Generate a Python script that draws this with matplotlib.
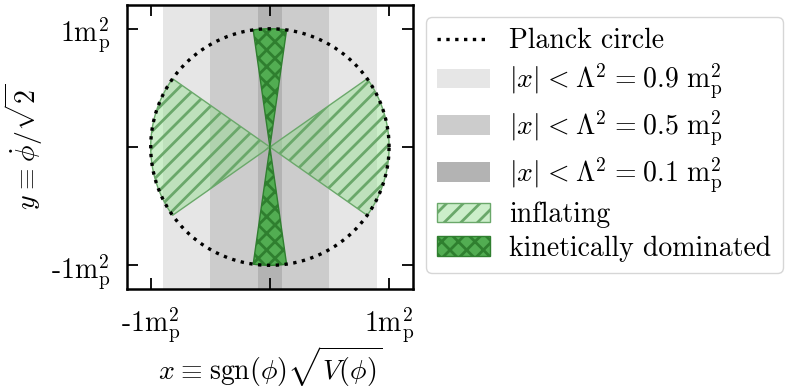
import numpy as np
import matplotlib
matplotlib.use("Agg")
import matplotlib.pyplot as plt

plt.rcParams['font.family'] = 'serif'
plt.rcParams['font.serif'] = ['cmr10']
plt.rcParams['mathtext.fontset'] = 'cm'
plt.rcParams['axes.unicode_minus'] = False
plt.rcParams['hatch.linewidth'] = 2.0

# data
planck_radius = 1.0
cutoffs = [0.9, 0.5, 0.1]                 # Lambda^2 in m_p^2
cutoff_grays = ['0.9', '0.8', '0.7']
inflating_slope = 1 / np.sqrt(2)          # |y| < x / sqrt(2)
kinetic_slope = 1 / np.sqrt(50)           # |x| < |y| / sqrt(50)
tick_values = [-1, 0, 1]
tick_labels = [r'-$1\mathrm{m}_\mathrm{p}^2$', '', r'$1\mathrm{m}_\mathrm{p}^2$']
lim = 1.2

fs = 20
sp = r'\hspace{0.08}'

fig = plt.figure(figsize=(7.88, 3.9), dpi=100)
ax = fig.add_axes([0.161, 0.259, 0.363, 0.728])

# cutoff bands
for c, g in zip(cutoffs, cutoff_grays):
    lab = r'$|x|' + sp + '<' + sp + r'\Lambda^2' + sp + '=' + sp + '%.1f\\ \\mathrm{m}_\\mathrm{p}^2$' % c
    ax.axvspan(-c, c, color=g, lw=0, label=lab)


def wedge(a0, a1, n=100):
    t = np.linspace(a0, a1, n)
    xs = np.concatenate([[0], planck_radius * np.cos(t), [0]])
    ys = np.concatenate([[0], planck_radius * np.sin(t), [0]])
    return xs, ys


th_inf = np.arctan(inflating_slope)
for i, mid in enumerate([0, np.pi]):
    xs, ys = wedge(mid - th_inf, mid + th_inf)
    ax.fill(xs, ys, facecolor=(0.56, 0.86, 0.54, 0.45), edgecolor='#6aa86a',
            lw=1.0, hatch='//', label='inflating' if i == 0 else None)

th_kin = np.arctan(kinetic_slope)
for i, mid in enumerate([np.pi / 2, -np.pi / 2]):
    xs, ys = wedge(mid - th_kin, mid + th_kin)
    ax.fill(xs, ys, facecolor='#52ad52', edgecolor='#2f7f2f',
            lw=1.0, hatch='xx', label='kinetically dominated' if i == 0 else None)

t = np.linspace(0, 2 * np.pi, 400)
ax.plot(planck_radius * np.cos(t), planck_radius * np.sin(t), ':', color='k',
        lw=2.4, label='Planck circle', zorder=5)

ax.set_xlim(-lim, lim)
ax.set_ylim(-lim, lim)
ax.set_xticks(tick_values)
ax.set_xticklabels(tick_labels)
ax.set_yticks(tick_values)
ax.set_yticklabels(tick_labels)
ax.tick_params(direction='in', top=True, right=True, length=8, width=1.3,
               labelsize=fs, pad=12)
for s in ax.spines.values():
    s.set_linewidth(1.8)

ax.set_xlabel(r'$x' + sp + r'\equiv' + sp + r'\mathrm{sgn}(\phi)\sqrt{V(\phi)}$',
              fontsize=fs, labelpad=-1)
ax.set_ylabel(r'$y' + sp + r'\equiv' + sp + r'\dot{\phi}/\sqrt{2}$', fontsize=fs, labelpad=4)

h, l = ax.get_legend_handles_labels()
order = [l.index('Planck circle')] + [i for i in range(len(l)) if l[i] != 'Planck circle']
fig.legend([h[i] for i in order], [l[i] for i in order], loc='upper left',
           bbox_to_anchor=(426 / 788, 1 - 17 / 390), borderaxespad=0,
           fontsize=fs, labelspacing=0.26, handlelength=1.9, handletextpad=0.7)

fig.savefig('out.png', dpi=100)
